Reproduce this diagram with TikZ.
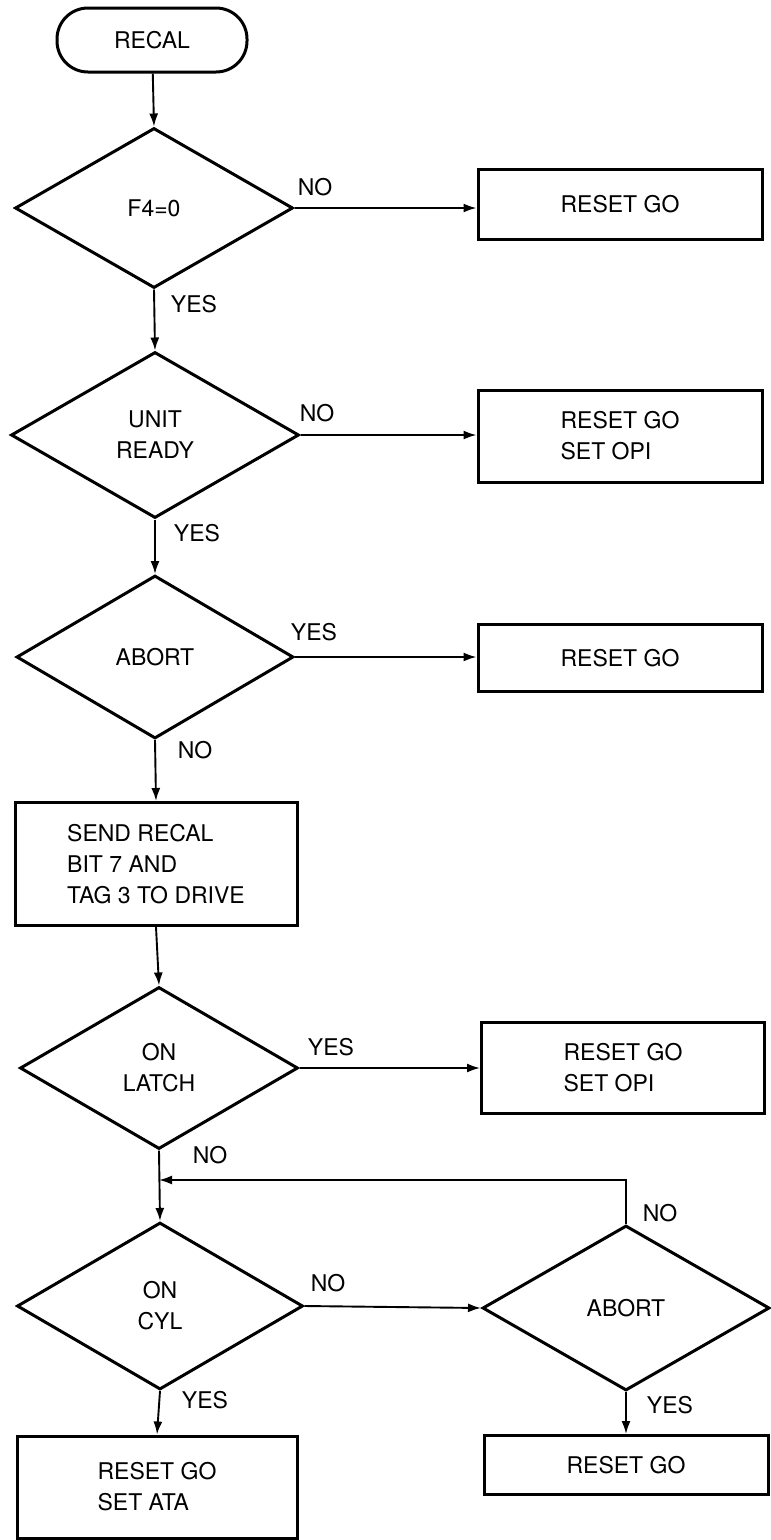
\documentclass[tikz,border=0pt]{standalone}
\usepackage{fontspec}
\setmainfont{TeX Gyre Heros}
\usetikzlibrary{shapes.geometric,arrows.meta}
\begin{document}
\begin{tikzpicture}[x=1pt,y=-1pt,
  every node/.style={font=\fontsize{23}{31}\selectfont},
  dec/.style={diamond, draw, line width=3pt, inner sep=0pt, align=center},
  proc/.style={rectangle, draw, line width=3pt, inner sep=0pt, align=left},
  term/.style={rectangle, rounded corners=31pt, draw, line width=3pt, inner sep=0pt},
  conn/.style={line width=1.9pt},
  arr/.style={conn, -{Latex[length=13pt,width=9pt]}},
  lbl/.style={inner sep=0pt}
]
\useasboundingbox (0,0) rectangle (771,1540);

% nodes
\node[term, minimum width=190pt, minimum height=64pt] (t) at (152,40) {RECAL};
\node[dec, minimum width=278pt, minimum height=160pt] (d1) at (154,208) {F4=0};
\node[proc, minimum width=284pt, minimum height=70pt] (b1) at (620,204) {RESET GO};
\node[dec, minimum width=288pt, minimum height=166pt] (d2) at (155,435) {UNIT\\READY};
\node[proc, minimum width=284pt, minimum height=92pt] (b2) at (620,436) {RESET GO\\SET OPI};
\node[dec, minimum width=277pt, minimum height=163pt] (d3) at (155,657) {ABORT};
\node[proc, minimum width=284pt, minimum height=67pt] (b3) at (620,658) {RESET GO};
\node[proc, minimum width=282pt, minimum height=123pt] (b4) at (156,864) {SEND RECAL\\BIT 7 AND\\TAG 3 TO DRIVE};
\node[dec, minimum width=278pt, minimum height=162pt] (d4) at (159,1068) {ON\\LATCH};
\node[proc, minimum width=283pt, minimum height=91pt] (b5) at (623,1068) {RESET GO\\SET OPI};
\node[dec, minimum width=286pt, minimum height=167pt] (d5) at (160,1306) {ON\\CYL};
\node[dec, minimum width=287pt, minimum height=165pt] (d6) at (626,1308) {ABORT};
\node[proc, minimum width=280pt, minimum height=102pt] (b6) at (157,1487) {RESET GO\\SET ATA};
\node[proc, minimum width=284pt, minimum height=59pt] (b7) at (626,1465) {RESET GO};
\coordinate (j) at (159,1180);

% connectors
\draw[arr] (t) -- (d1.north);
\draw[arr] (d1.east) -- (d1.east -| b1.west);
\draw[arr] (d1.south) -- (d2.north);
\draw[arr] (d2.east) -- (d2.east -| b2.west);
\draw[arr] (d2.south) -- (d3.north);
\draw[arr] (d3.east) -- (d3.east -| b3.west);
\draw[arr] (d3.south) -- (b4.north);
\draw[arr] (b4.south) -- (d4.north);
\draw[arr] (d4.east) -- (d4.east -| b5.west);
\draw[arr] (d4.south) -- (d5.north);
\draw[arr] (d6.north) |- (j);
\draw[arr] (d5.east) -- (d6.west);
\draw[arr] (d5.south) -- (b6.north);
\draw[arr] (d6.south) -- (b7.north);

% labels
\node[lbl] (l1) at (315,187) {NO};
\node[lbl] (l2) at (194,304) {YES};
\node[lbl] (l3) at (317,413) {NO};
\node[lbl] (l4) at (197,533) {YES};
\node[lbl] (l5) at (314,632) {YES};
\node[lbl] (l6) at (195,750) {NO};
\node[lbl] (l7) at (331,1047) {YES};
\node[lbl] (l8) at (210,1155) {NO};
\node[lbl] (l9) at (660,1213) {NO};
\node[lbl] (l10) at (328,1283) {NO};
\node[lbl] (l11) at (205,1400) {YES};
\node[lbl] (l12) at (670,1405) {YES};
\end{tikzpicture}
\end{document}
